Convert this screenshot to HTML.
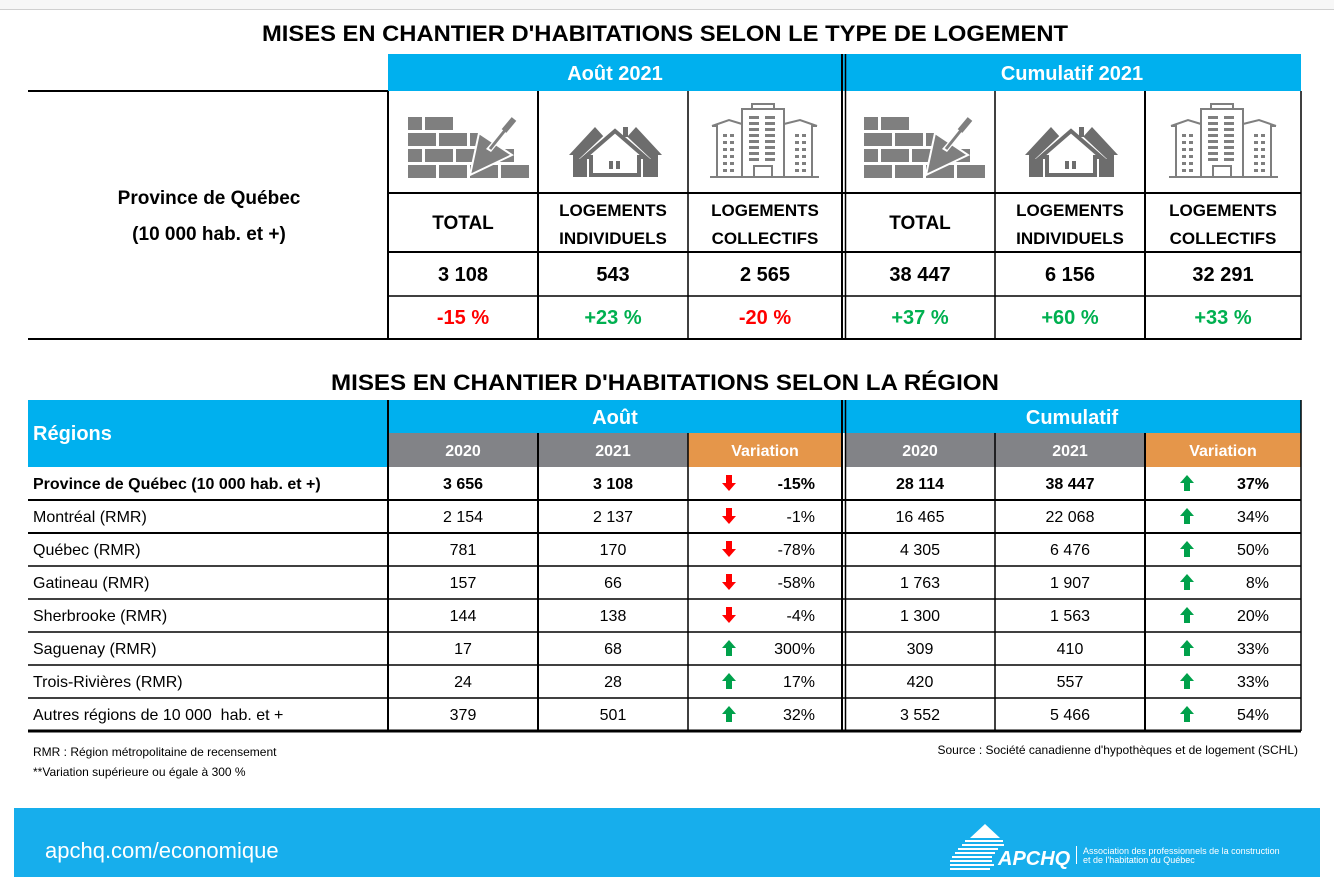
<!DOCTYPE html>
<html><head><meta charset="utf-8"><style>
html,body{margin:0;padding:0;background:#fff;}
svg{display:block;font-family:"Liberation Sans",sans-serif;}
</style></head><body>
<svg width="1334" height="877" viewBox="0 0 1334 877" xmlns="http://www.w3.org/2000/svg">
<defs>
<g id="brick" fill="#7f7f7f">
<rect x="0" y="0" width="14" height="13"/><rect x="17" y="0" width="28" height="13"/>
<rect x="0" y="16" width="28" height="13"/><rect x="31" y="16" width="28" height="13"/><rect x="62" y="16" width="8" height="13"/>
<rect x="0" y="32" width="14" height="13"/><rect x="17" y="32" width="28" height="13"/><rect x="48" y="32" width="20" height="13"/><rect x="92" y="32" width="14" height="13"/>
<rect x="0" y="48" width="28" height="13"/><rect x="31" y="48" width="28" height="13"/><rect x="62" y="48" width="28" height="13"/><rect x="93" y="48" width="28" height="13"/>
<polygon points="62,58 71,16 104,38" stroke="#fff" stroke-width="2"/>
<polygon points="78,32 92,16 96,19 83,35" fill="#fff"/>
<line x1="82" y1="32" x2="98" y2="12" stroke="#7f7f7f" stroke-width="3"/>
<line x1="96" y1="14" x2="106" y2="2" stroke="#7f7f7f" stroke-width="6"/>
</g>
<g id="house">
<polygon points="0,28 26,0 44,20 44,50 4,50 4,28" fill="#6d6d6d"/>
<polygon points="93,28 67,0 49,20 49,50 89,50 89,28" fill="#6d6d6d"/>
<polygon points="46,-2 10,32 18,32 18,52 74,52 74,32 82,32" fill="#fff"/>
<polygon points="46,4 16,30 22,30 22,48 70,48 70,30 76,30" fill="none" stroke="#6d6d6d" stroke-width="4"/>
<rect x="54" y="0" width="5" height="10" fill="#6d6d6d"/>
<rect x="40" y="34" width="4" height="8" fill="#6d6d6d"/><rect x="47" y="34" width="4" height="8" fill="#6d6d6d"/>
</g>
<g id="bldg" fill="none" stroke="#7f7f7f" stroke-width="2">
<rect x="30" y="5" width="42" height="68"/><rect x="40" y="0" width="22" height="5"/>
<path d="M0,22 L17,16 L30,20 M0,22 L5,22 L5,73 L30,73"/>
<path d="M105,22 L88,16 L72,20 M105,22 L100,22 L100,73 L72,73"/>
<line x1="-2" y1="73" x2="107" y2="73"/>
<rect x="42" y="62" width="18" height="11"/>
<g fill="#7f7f7f" stroke="none">
<rect x="37" y="12" width="10" height="3"/><rect x="53" y="12" width="10" height="3"/>
<rect x="37" y="18" width="10" height="3"/><rect x="53" y="18" width="10" height="3"/>
<rect x="37" y="24" width="10" height="3"/><rect x="53" y="24" width="10" height="3"/>
<rect x="37" y="30" width="10" height="3"/><rect x="53" y="30" width="10" height="3"/>
<rect x="37" y="36" width="10" height="3"/><rect x="53" y="36" width="10" height="3"/>
<rect x="37" y="42" width="10" height="3"/><rect x="53" y="42" width="10" height="3"/>
<rect x="37" y="48" width="10" height="3"/><rect x="53" y="48" width="10" height="3"/>
<rect x="37" y="54" width="10" height="3"/><rect x="53" y="54" width="10" height="3"/>
<rect x="11" y="30" width="4" height="3"/><rect x="18" y="30" width="4" height="3"/>
<rect x="11" y="37" width="4" height="3"/><rect x="18" y="37" width="4" height="3"/>
<rect x="11" y="44" width="4" height="3"/><rect x="18" y="44" width="4" height="3"/>
<rect x="11" y="51" width="4" height="3"/><rect x="18" y="51" width="4" height="3"/>
<rect x="11" y="58" width="4" height="3"/><rect x="18" y="58" width="4" height="3"/>
<rect x="11" y="65" width="4" height="3"/><rect x="18" y="65" width="4" height="3"/>
<rect x="83" y="30" width="4" height="3"/><rect x="90" y="30" width="4" height="3"/>
<rect x="83" y="37" width="4" height="3"/><rect x="90" y="37" width="4" height="3"/>
<rect x="83" y="44" width="4" height="3"/><rect x="90" y="44" width="4" height="3"/>
<rect x="83" y="51" width="4" height="3"/><rect x="90" y="51" width="4" height="3"/>
<rect x="83" y="58" width="4" height="3"/><rect x="90" y="58" width="4" height="3"/>
<rect x="83" y="65" width="4" height="3"/><rect x="90" y="65" width="4" height="3"/>
</g>
</g>
<polygon id="dn" points="-3,0 3,0 3,8 7,8 0,16 -7,8 -3,8" fill="#ff0000"/>
<polygon id="up" points="-3,16 3,16 3,8 7,8 0,0 -7,8 -3,8" fill="#00a14b"/>
</defs>

<rect x="0" y="0" width="1334" height="9" fill="#f7f7f7"/>
<line x1="0" y1="9.5" x2="1334" y2="9.5" stroke="#d0d0d0"/>

<!-- TOP TABLE -->
<text x="665" y="41" text-anchor="middle" font-size="22" font-weight="bold" textLength="806" lengthAdjust="spacingAndGlyphs">MISES EN CHANTIER D'HABITATIONS SELON LE TYPE DE LOGEMENT</text>
<rect x="388" y="54" width="913" height="37" fill="#00b0ee"/>
<text x="615" y="80" text-anchor="middle" font-size="20" font-weight="bold" fill="#fff">Août 2021</text>
<text x="1072" y="80" text-anchor="middle" font-size="20" font-weight="bold" fill="#fff">Cumulatif 2021</text>

<g stroke="#000" fill="none">
<line x1="28" y1="91" x2="388" y2="91" stroke-width="2"/>
<line x1="28" y1="339" x2="1301" y2="339" stroke-width="2"/>
<line x1="388" y1="193" x2="1301" y2="193" stroke-width="2"/>
<line x1="388" y1="252" x2="1301" y2="252" stroke-width="2"/>
<line x1="388" y1="296" x2="1301" y2="296" stroke-width="1.5"/>
<line x1="388" y1="91" x2="388" y2="340" stroke-width="2"/>
<line x1="538" y1="91" x2="538" y2="340" stroke-width="2"/>
<line x1="688" y1="91" x2="688" y2="340" stroke-width="1.5"/>
<line x1="842" y1="54" x2="842" y2="340" stroke-width="2"/>
<line x1="845.5" y1="54" x2="845.5" y2="340" stroke-width="1.5"/>
<line x1="995" y1="91" x2="995" y2="340" stroke-width="1.5"/>
<line x1="1145" y1="91" x2="1145" y2="340" stroke-width="2"/>
<line x1="1301" y1="91" x2="1301" y2="340" stroke-width="1.5"/>
</g>

<use href="#brick" x="408" y="117"/>
<use href="#house" x="569" y="127"/>
<use href="#bldg" x="712" y="104"/>
<use href="#brick" x="864" y="117"/>
<use href="#house" x="1025" y="127"/>
<use href="#bldg" x="1171" y="104"/>

<g font-weight="bold" text-anchor="middle">
<text x="209" y="204" font-size="19">Province de Québec</text>
<text x="209" y="240" font-size="19">(10 000 hab. et +)</text>
<g font-size="19">
<text x="463" y="229">TOTAL</text><text x="920" y="229">TOTAL</text>
</g>
<g font-size="17">
<text x="613" y="216">LOGEMENTS</text><text x="613" y="244">INDIVIDUELS</text>
<text x="765" y="216">LOGEMENTS</text><text x="765" y="244">COLLECTIFS</text>
<text x="1070" y="216">LOGEMENTS</text><text x="1070" y="244">INDIVIDUELS</text>
<text x="1223" y="216">LOGEMENTS</text><text x="1223" y="244">COLLECTIFS</text>
</g>
<g font-size="20">
<text x="463" y="281">3 108</text><text x="613" y="281">543</text><text x="765" y="281">2 565</text>
<text x="920" y="281">38 447</text><text x="1070" y="281">6 156</text><text x="1223" y="281">32 291</text>
<text x="463" y="324" fill="#ff0000">-15 %</text><text x="613" y="324" fill="#00b050">+23 %</text><text x="765" y="324" fill="#ff0000">-20 %</text>
<text x="920" y="324" fill="#00b050">+37 %</text><text x="1070" y="324" fill="#00b050">+60 %</text><text x="1223" y="324" fill="#00b050">+33 %</text>
</g>
</g>

<!-- REGION TABLE -->
<text x="665" y="390" text-anchor="middle" font-size="22" font-weight="bold" textLength="668" lengthAdjust="spacingAndGlyphs">MISES EN CHANTIER D'HABITATIONS SELON LA RÉGION</text>
<rect x="28" y="400" width="1273" height="33" fill="#00b0ee"/>
<rect x="28" y="433" width="360" height="34" fill="#00b0ee"/>
<rect x="388" y="433" width="300" height="34" fill="#828387"/>
<rect x="688" y="433" width="154" height="34" fill="#e5964a"/>
<rect x="845" y="433" width="300" height="34" fill="#828387"/>
<rect x="1145" y="433" width="156" height="34" fill="#e5964a"/>
<g fill="#fff" font-weight="bold" text-anchor="middle">
<text x="33" y="440" text-anchor="start" font-size="20">Régions</text>
<text x="615" y="424" font-size="20">Août</text>
<text x="1072" y="424" font-size="20">Cumulatif</text>
<g font-size="16">
<text x="463" y="456">2020</text><text x="613" y="456">2021</text><text x="765" y="456">Variation</text>
<text x="920" y="456">2020</text><text x="1070" y="456">2021</text><text x="1223" y="456">Variation</text>
</g>
</g>

<g stroke="#000" fill="none">
<line x1="28" y1="500" x2="1301" y2="500" stroke-width="2"/>
<line x1="28" y1="533" x2="1301" y2="533" stroke-width="2"/>
<line x1="28" y1="566" x2="1301" y2="566" stroke-width="1.5"/>
<line x1="28" y1="599" x2="1301" y2="599" stroke-width="1.5"/>
<line x1="28" y1="632" x2="1301" y2="632" stroke-width="1.5"/>
<line x1="28" y1="665" x2="1301" y2="665" stroke-width="1.5"/>
<line x1="28" y1="698" x2="1301" y2="698" stroke-width="1.5"/>
<line x1="28" y1="731" x2="1301" y2="731" stroke-width="3"/>
<line x1="388" y1="400" x2="388" y2="731" stroke-width="2"/>
<line x1="538" y1="433" x2="538" y2="731" stroke-width="2"/>
<line x1="688" y1="433" x2="688" y2="731" stroke-width="1.5"/>
<line x1="842" y1="400" x2="842" y2="731" stroke-width="2"/>
<line x1="845.5" y1="400" x2="845.5" y2="731" stroke-width="1.5"/>
<line x1="995" y1="433" x2="995" y2="731" stroke-width="1.5"/>
<line x1="1145" y1="433" x2="1145" y2="731" stroke-width="2"/>
<line x1="1301" y1="400" x2="1301" y2="731" stroke-width="1.5"/>
</g>

<g font-size="16">
<g font-weight="bold">
<text x="33" y="489">Province de Québec (10 000 hab. et +)</text>
<g text-anchor="middle"><text x="463" y="489">3 656</text><text x="613" y="489">3 108</text><text x="920" y="489">28 114</text><text x="1070" y="489">38 447</text></g>
<g text-anchor="end"><text x="815" y="489">-15%</text><text x="1269" y="489">37%</text></g>
</g>
<g>
<text x="33" y="522">Montréal (RMR)</text>
<text x="33" y="555">Québec (RMR)</text>
<text x="33" y="588">Gatineau (RMR)</text>
<text x="33" y="621">Sherbrooke (RMR)</text>
<text x="33" y="654">Saguenay (RMR)</text>
<text x="33" y="687">Trois-Rivières (RMR)</text>
<text x="33" y="720">Autres régions de 10 000 &#160;hab. et +</text>
</g>
<g text-anchor="middle">
<text x="463" y="522">2 154</text><text x="613" y="522">2 137</text><text x="920" y="522">16 465</text><text x="1070" y="522">22 068</text>
<text x="463" y="555">781</text><text x="613" y="555">170</text><text x="920" y="555">4 305</text><text x="1070" y="555">6 476</text>
<text x="463" y="588">157</text><text x="613" y="588">66</text><text x="920" y="588">1 763</text><text x="1070" y="588">1 907</text>
<text x="463" y="621">144</text><text x="613" y="621">138</text><text x="920" y="621">1 300</text><text x="1070" y="621">1 563</text>
<text x="463" y="654">17</text><text x="613" y="654">68</text><text x="920" y="654">309</text><text x="1070" y="654">410</text>
<text x="463" y="687">24</text><text x="613" y="687">28</text><text x="920" y="687">420</text><text x="1070" y="687">557</text>
<text x="463" y="720">379</text><text x="613" y="720">501</text><text x="920" y="720">3 552</text><text x="1070" y="720">5 466</text>
</g>
<g text-anchor="end">
<text x="815" y="522">-1%</text><text x="1269" y="522">34%</text>
<text x="815" y="555">-78%</text><text x="1269" y="555">50%</text>
<text x="815" y="588">-58%</text><text x="1269" y="588">8%</text>
<text x="815" y="621">-4%</text><text x="1269" y="621">20%</text>
<text x="815" y="654">300%</text><text x="1269" y="654">33%</text>
<text x="815" y="687">17%</text><text x="1269" y="687">33%</text>
<text x="815" y="720">32%</text><text x="1269" y="720">54%</text>
</g>
</g>
<use href="#dn" x="729" y="475"/><use href="#up" x="1187" y="475"/>
<use href="#dn" x="729" y="508"/><use href="#up" x="1187" y="508"/>
<use href="#dn" x="729" y="541"/><use href="#up" x="1187" y="541"/>
<use href="#dn" x="729" y="574"/><use href="#up" x="1187" y="574"/>
<use href="#dn" x="729" y="607"/><use href="#up" x="1187" y="607"/>
<use href="#up" x="729" y="640"/><use href="#up" x="1187" y="640"/>
<use href="#up" x="729" y="673"/><use href="#up" x="1187" y="673"/>
<use href="#up" x="729" y="706"/><use href="#up" x="1187" y="706"/>

<g font-size="12">
<text x="33" y="756">RMR : Région métropolitaine de recensement</text>
<text x="33" y="776">**Variation supérieure ou égale à 300 %</text>
<text x="1298" y="754" text-anchor="end">Source : Société canadienne d'hypothèques et de logement (SCHL)</text>
</g>

<!-- FOOTER -->
<rect x="14" y="808" width="1306" height="69" fill="#17aeec"/>
<text x="45" y="858" font-size="22" fill="#fff">apchq.com/economique</text>
<g fill="#fff">
<polygon points="985,824 1000,838 970,838"/>
<rect x="965" y="840" width="38" height="2"/><rect x="962" y="844" width="42" height="2"/>
<rect x="958" y="848" width="40" height="2"/><rect x="955" y="852" width="40" height="2"/>
<rect x="952" y="856" width="40" height="2"/><rect x="950" y="860" width="42" height="2"/>
<rect x="950" y="864" width="44" height="2"/><rect x="950" y="868" width="40" height="2"/>
<text x="998" y="865" font-size="20" font-weight="bold" font-style="italic">APCHQ</text>
<rect x="1076" y="846" width="1" height="18"/>
<text x="1083" y="854" font-size="9">Association des professionnels de la construction</text>
<text x="1083" y="863" font-size="9">et de l'habitation du Québec</text>
</g>
</svg>
</body></html>
